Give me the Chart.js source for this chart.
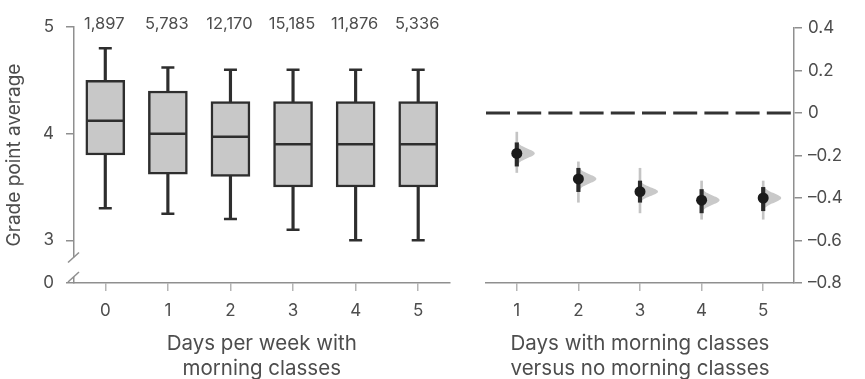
<!DOCTYPE html>
<html><head><meta charset="utf-8">
<script src="https://cdn.jsdelivr.net/npm/chart.js@4.4.1/dist/chart.umd.min.js"></script>
<style>
html,body{margin:0;padding:0;background:#fff;}
#wrap{position:relative;width:865px;height:379px;overflow:hidden;background:#fff;}
canvas{position:absolute;top:0;}
#c1{left:0;}
#c2{left:470px;}
</style></head><body>
<div id="wrap">
<canvas id="c1" width="470" height="379"></canvas>
<canvas id="c2" width="395" height="379"></canvas>
</div>
<script>
// ---------- Left panel data ----------
const dayCategories = ['0','1','2','3','4','5'];
const studentCounts = ['1,897','5,783','12,170','15,185','11,876','5,336'];
const gpaWhiskerLow  = [3.30, 3.25, 3.20, 3.10, 3.00, 3.00];
const gpaQ1          = [3.80, 3.62, 3.60, 3.50, 3.50, 3.50];
const gpaMedian      = [4.12, 4.00, 3.97, 3.90, 3.90, 3.90];
const gpaQ3          = [4.50, 4.40, 4.30, 4.30, 4.30, 4.30];
const gpaWhiskerHigh = [4.80, 4.62, 4.60, 4.60, 4.60, 4.60];
const gpaTickValues  = [0, 3, 4, 5];

// ---------- Right panel data ----------
const diffCategories  = ['1','2','3','4','5'];
const diffMean        = [-0.19, -0.31, -0.37, -0.41, -0.40];
const diffCI95Low     = [-0.28, -0.42, -0.47, -0.50, -0.50];
const diffCI95High    = [-0.09, -0.23, -0.26, -0.32, -0.32];
const diffCIInnerLow  = [-0.25, -0.37, -0.42, -0.47, -0.46];
const diffCIInnerHigh = [-0.14, -0.26, -0.32, -0.36, -0.35];
const diffTickValues  = [-0.8, -0.6, -0.4, -0.2, 0, 0.2, 0.4];

// ---------- style ----------
const FONT = 'Inter, "Open Sans", sans-serif';
const TEXT = '#4d4d4d';
const AXIS = '#8f8f8f';
const TICKC = '#b5b5b5';
const DARK = '#2e2e2e';
const BREAK_POS = 2.6;   // where the "0" of the broken axis sits on the scale

const mapGpa = v => (v === 0 ? BREAK_POS : v);
const fmtDiff = v => {
  const r = Math.round(v * 10) / 10;
  if (r === 0) return '0';
  return (r < 0 ? '\u2013' : '') + Math.abs(r).toFixed(1);
};

Chart.defaults.font.family = FONT;
Chart.defaults.color = TEXT;
Chart.defaults.animation = false;

const range = (a, b) => a.map((v, i) => [v, b[i]]);

// ---------- left plugin: counts + axis break ----------
const leftDecor = {
  id: 'leftDecor',
  afterDraw(chart) {
    const { ctx, chartArea, scales: { x, y } } = chart;
    ctx.save();
    ctx.fillStyle = TEXT;
    ctx.font = `16.5px ${FONT}`;
    ctx.textAlign = 'center';
    ctx.textBaseline = 'middle';
    studentCounts.forEach((c, i) => ctx.fillText(c, x.getPixelForValue(i) - 1, chartArea.top - 3));
    // axis break
    const ax = chartArea.left - 0.5;
    const yA = y.getPixelForValue(2.9);
    const yB = y.getPixelForValue(2.76);
    const gTop = (yA + yB) / 2 - 1, gBot = yB + 11;
    ctx.fillStyle = '#fff';
    ctx.fillRect(ax - 3, gTop, 6, gBot - gTop);
    ctx.strokeStyle = AXIS;
    ctx.lineWidth = 1.5;
    [gTop, gBot].forEach(cy => {
      ctx.beginPath();
      ctx.moveTo(ax - 5.5, cy + 5);
      ctx.lineTo(ax + 5.5, cy - 5);
      ctx.stroke();
    });
    ctx.restore();
  }
};

const xTitleFont = { size: 20.5, lineHeight: 1.22 };

new Chart(document.getElementById('c1'), {
  type: 'bar',
  data: {
    labels: dayCategories,
    datasets: [
      { type: 'line', data: gpaMedian, showLine: false, pointStyle: 'line', pointRadius: 18,
        borderColor: DARK, pointBorderWidth: 2.5, order: 0 },
      { type: 'line', data: gpaWhiskerHigh, showLine: false, pointStyle: 'line', pointRadius: 6.5,
        borderColor: DARK, pointBorderWidth: 2.5, order: 1 },
      { type: 'line', data: gpaWhiskerLow, showLine: false, pointStyle: 'line', pointRadius: 6.5,
        borderColor: DARK, pointBorderWidth: 2.5, order: 1 },
      { data: range(gpaQ1, gpaQ3), barThickness: 39, backgroundColor: '#c8c8c8',
        borderColor: DARK, borderWidth: 2.5, borderSkipped: false, grouped: false, order: 2 },
      { data: range(gpaWhiskerLow, gpaQ1), barThickness: 2.5, backgroundColor: DARK,
        borderWidth: 0, grouped: false, order: 3 },
      { data: range(gpaQ3, gpaWhiskerHigh), barThickness: 2.5, backgroundColor: DARK,
        borderWidth: 0, grouped: false, order: 3 }
    ]
  },
  options: {
    responsive: false,
    events: [],
    layout: { padding: { top: 27, right: 12, left: 0, bottom: 0 } },
    plugins: { legend: { display: false }, tooltip: { enabled: false } },
    scales: {
      x: {
        offset: true,
        grid: { drawOnChartArea: false, offset: false, tickLength: 8, color: TICKC, lineWidth: 1.5 },
        border: { color: AXIS, width: 1.5 },
        ticks: { padding: 10, font: { size: 17 }, color: TEXT },
        title: { display: true, text: ['Days per week with', 'morning classes'],
                 font: xTitleFont, color: TEXT, padding: { top: 0, bottom: -2.5 } },
        afterFit: s => { s.height = 96; }
      },
      y: {
        min: BREAK_POS, max: 5,
        afterBuildTicks: s => { s.ticks = gpaTickValues.map(v => ({ value: mapGpa(v) })); },
        ticks: { padding: 12, font: { size: 17 }, color: TEXT,
                 callback: (v) => (v === BREAK_POS ? '0' : String(v)) },
        grid: { drawOnChartArea: false, tickLength: 8, color: AXIS, lineWidth: 1.5 },
        border: { color: AXIS, width: 1.5 },
        title: { display: true, text: 'Grade point average', font: { size: 19 }, color: TEXT,
                 padding: { top: 3, bottom: 0 } },
        afterFit: s => { s.width = 74; }
      }
    }
  },
  plugins: [leftDecor]
});

// ---------- right plugin: zero line + half violins ----------
const rightDecor = {
  id: 'rightDecor',
  beforeDatasetsDraw(chart) {
    const { ctx, chartArea, scales: { x, y } } = chart;
    ctx.save();
    // zero reference line
    const y0 = y.getPixelForValue(0);
    ctx.strokeStyle = '#333';
    ctx.lineWidth = 3;
    ctx.setLineDash([24, 7.2]);
    ctx.beginPath();
    ctx.moveTo(chartArea.left, y0);
    ctx.lineTo(chartArea.right, y0);
    ctx.stroke();
    ctx.setLineDash([]);
    // half violins (sampling distributions)
    ctx.fillStyle = '#c9c9c9';
    diffMean.forEach((m, i) => {
      const sd = (diffCIInnerHigh[i] - diffCIInnerLow[i]) / 5;
      const px = x.getPixelForValue(i);
      const W = 18;
      ctx.beginPath();
      ctx.moveTo(px, y.getPixelForValue(m + 2.6 * sd));
      for (let k = -26; k <= 26; k++) {
        const t = k / 10;
        const yy = y.getPixelForValue(m - t * sd);
        const w = W * Math.exp(-t * t / 2);
        ctx.lineTo(px + w, yy);
      }
      ctx.lineTo(px, y.getPixelForValue(m - 2.6 * sd));
      ctx.closePath();
      ctx.fill();
    });
    ctx.restore();
  }
};

new Chart(document.getElementById('c2'), {
  type: 'bar',
  data: {
    labels: diffCategories,
    datasets: [
      { type: 'line', data: diffMean, showLine: false, pointStyle: 'circle', pointRadius: 5.5,
        pointBackgroundColor: '#1b1b1b', pointBorderWidth: 0, order: 0 },
      { data: range(diffCIInnerLow, diffCIInnerHigh), barThickness: 3.5, backgroundColor: '#2a2a2a',
        borderWidth: 0, grouped: false, order: 1 },
      { data: range(diffCI95Low, diffCI95High), barThickness: 2, backgroundColor: '#c4c4c4',
        borderWidth: 0, grouped: false, order: 2 }
    ]
  },
  options: {
    responsive: false,
    events: [],
    layout: { padding: { top: 28, right: 0, left: 16, bottom: 0 } },
    plugins: { legend: { display: false }, tooltip: { enabled: false } },
    scales: {
      x: {
        offset: true,
        grid: { drawOnChartArea: false, offset: false, tickLength: 8, color: TICKC, lineWidth: 1.5 },
        border: { color: AXIS, width: 1.5 },
        ticks: { padding: 10, font: { size: 17 }, color: TEXT },
        title: { display: true, text: ['Days with morning classes', 'versus no morning classes'],
                 font: xTitleFont, color: TEXT, padding: { top: 0, bottom: -2.5 } },
        afterFit: s => { s.height = 96; }
      },
      y: {
        position: 'right',
        min: -0.8, max: 0.4,
        afterBuildTicks: s => { s.ticks = diffTickValues.map(v => ({ value: v })); },
        ticks: { padding: 6, font: { size: 17 }, color: TEXT, callback: v => fmtDiff(v) },
        grid: { drawOnChartArea: false, tickLength: 8, color: AXIS, lineWidth: 1.5 },
        border: { color: AXIS, width: 1.5 },
        afterFit: s => { s.width = 71; }
      }
    }
  },
  plugins: [rightDecor]
});
</script>
</body></html>
